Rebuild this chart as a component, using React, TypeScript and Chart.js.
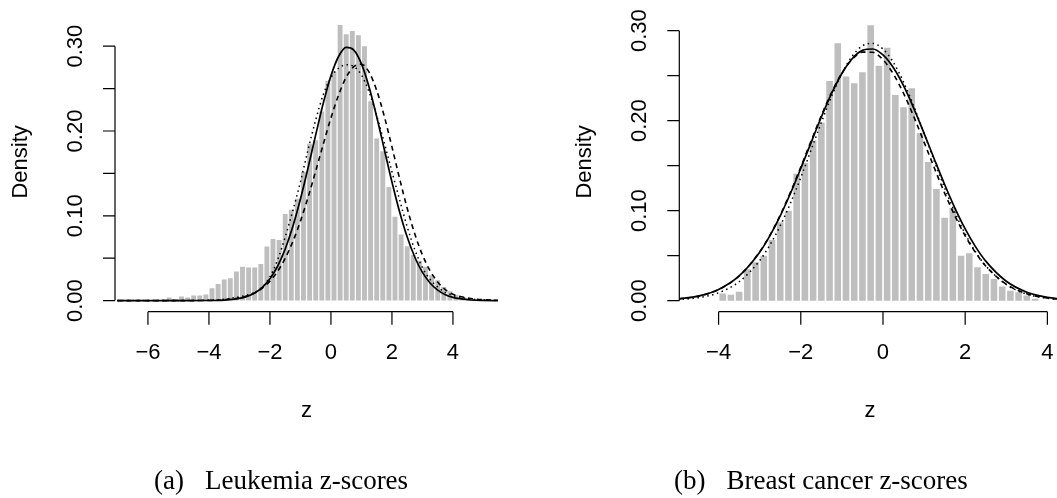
import React, { useEffect, useRef } from "react";
import { Chart, registerables } from "chart.js";

Chart.register(...registerables);

// ---------------- data: Leukemia (left panel) ----------------
const leftBinWidth = 0.2;
const leftBinEdges = [
  -5.6, -5.4, -5.2, -5.0, -4.8, -4.6, -4.4, -4.2, -4.0, -3.8, -3.6, -3.4, -3.2, -3.0,
  -2.8, -2.6, -2.4, -2.2, -2.0, -1.8, -1.6, -1.4, -1.2, -1.0, -0.8, -0.6, -0.4, -0.2,
  0.0, 0.2, 0.4, 0.6, 0.8, 1.0, 1.2, 1.4, 1.6, 1.8, 2.0, 2.2, 2.4, 2.6, 2.8, 3.0,
  3.2, 3.4, 3.6, 3.8, 4.0, 4.2, 4.4, 4.6, 4.8, 5.0,
];
const leftBinDensity = [
  0.001, 0.0035, 0.002, 0.0047, 0.0035, 0.006, 0.006, 0.0071, 0.0145, 0.0197, 0.0248, 0.0263, 0.0342, 0.04,
  0.039, 0.039, 0.043, 0.0637, 0.0727, 0.0715, 0.102, 0.107, 0.12, 0.152, 0.185, 0.189, 0.223, 0.259,
  0.27, 0.325, 0.314, 0.318, 0.313, 0.3, 0.235, 0.191, 0.176, 0.134, 0.099, 0.078, 0.064, 0.054, 0.047, 0.04,
  0.03, 0.024, 0.016, 0.011, 0.007, 0.004, 0.003, 0.002, 0.001, 0.0006,
];
const leftCurveZ = [
  -7, -5, -4, -3.5, -3, -2.75, -2.5, -2.25, -2, -1.75, -1.5, -1.25, -1, -0.75, -0.5, -0.25,
  0, 0.25, 0.5, 0.75, 1, 1.25, 1.5, 1.75, 2, 2.25, 2.5, 2.75, 3, 3.25, 3.5, 3.75, 4, 4.5, 5, 5.5,
];
const leftSolid = [
  0, 0, 0.0001, 0.0006, 0.0026, 0.005, 0.009, 0.0156, 0.0257, 0.0405, 0.0608, 0.0873, 0.1197, 0.1565, 0.1954, 0.2329,
  0.265, 0.2878, 0.2985, 0.2954, 0.2791, 0.2518, 0.2168, 0.1782, 0.1398, 0.1048, 0.0749, 0.0511, 0.0333, 0.0207, 0.0123, 0.007, 0.0038, 0.001, 0.0002, 0,
];
const leftDashed = [
  0, 0, 0.0002, 0.001, 0.0032, 0.0055, 0.0092, 0.0148, 0.023, 0.0344, 0.0499, 0.0696, 0.0937, 0.1218, 0.1527, 0.1846,
  0.2153, 0.2424, 0.2633, 0.2758, 0.2787, 0.2693, 0.2478, 0.2172, 0.1812, 0.144, 0.1089, 0.0784, 0.0538, 0.0352, 0.0219, 0.0129, 0.0075, 0.003, 0.001, 0.0003,
];
const leftDotted = [
  0, 0.0001, 0.0005, 0.0015, 0.0045, 0.0065, 0.0095, 0.016, 0.028, 0.048, 0.075, 0.106, 0.14, 0.178, 0.213, 0.243,
  0.263, 0.274, 0.278, 0.276, 0.266, 0.246, 0.218, 0.186, 0.152, 0.119, 0.087, 0.06, 0.039, 0.025, 0.016, 0.0095, 0.006, 0.0022, 0.0007, 0.0002,
];
const leftXTicks = [-6, -4, -2, 0, 2, 4];

// ---------------- data: Breast cancer (right panel) ----------------
const rightBinWidth = 0.2;
const rightBinEdges = [
  -4.0, -3.8, -3.6, -3.4, -3.2, -3.0, -2.8, -2.6, -2.4, -2.2, -2.0, -1.8, -1.6, -1.4, -1.2, -1.0,
  -0.8, -0.6, -0.4, -0.2, 0.0, 0.2, 0.4, 0.6, 0.8, 1.0, 1.2, 1.4, 1.6, 1.8, 2.0, 2.2, 2.4, 2.6, 2.8,
  3.0, 3.2, 3.4, 3.6,
];
const rightBinDensity = [
  0.008, 0.0065, 0.01, 0.035, 0.0426, 0.05, 0.0674, 0.087, 0.1, 0.141, 0.153, 0.178, 0.198, 0.244, 0.286, 0.249,
  0.2415, 0.2537, 0.306, 0.261, 0.281, 0.2285, 0.215, 0.236, 0.186, 0.154, 0.124, 0.092, 0.103, 0.05, 0.0526, 0.037, 0.0296, 0.024, 0.0156,
  0.011, 0.0093, 0.0056, 0.002,
];
const rightCurveZ = [
  -5, -4.5, -4, -3.5, -3, -2.75, -2.5, -2.25, -2, -1.75, -1.5, -1.25, -1, -0.75, -0.5, -0.25,
  0, 0.25, 0.5, 0.75, 1, 1.25, 1.5, 1.75, 2, 2.25, 2.5, 3, 3.5, 4, 4.5,
];
const rightSolid = [
  0.0018, 0.005, 0.0124, 0.0274, 0.0538, 0.0722, 0.0942, 0.1193, 0.1469, 0.1756, 0.204, 0.2302, 0.2524, 0.2688, 0.2781, 0.2796,
  0.273, 0.259, 0.2388, 0.2137, 0.1859, 0.1571, 0.129, 0.1029, 0.0797, 0.06, 0.0439, 0.0215, 0.0094, 0.0037, 0.0013,
];
const rightDashed = [
  0.0017, 0.0049, 0.0123, 0.0274, 0.0542, 0.0728, 0.0951, 0.1206, 0.1484, 0.1773, 0.2056, 0.2314, 0.2528, 0.2681, 0.2761, 0.2759,
  0.2677, 0.252, 0.2304, 0.2044, 0.1761, 0.1473, 0.1195, 0.0942, 0.072, 0.0535, 0.0385, 0.0183, 0.0077, 0.0029, 0.001,
];
const rightDotted = [
  0.001, 0.0032, 0.0087, 0.021, 0.0445, 0.0619, 0.0832, 0.1084, 0.1368, 0.1672, 0.1981, 0.2271, 0.2524, 0.2716, 0.2831, 0.2858,
  0.2795, 0.2648, 0.2429, 0.2159, 0.1858, 0.155, 0.1252, 0.0979, 0.0742, 0.0544, 0.0387, 0.0178, 0.0072, 0.0026, 0.0008,
];
const rightXTicks = [-4, -2, 0, 2, 4];

const yTickValues = [0, 0.05, 0.1, 0.15, 0.2, 0.25, 0.3];
const yLabelValues = [0, 0.1, 0.2, 0.3];
const yLabelTexts = ["0.00", "0.10", "0.20", "0.30"];

const captionLabels = ["(a)", "(b)"];
const captionTexts = ["Leukemia z-scores", "Breast cancer z-scores"];

const SANS = '"Liberation Sans", Arial, Helvetica, sans-serif';
const SERIF = '"Liberation Serif", "Times New Roman", serif';

type PanelProps = {
  left: number;
  width: number;
  padLeft: number;
  padRight: number;
  xMin: number;
  xMax: number;
  yMin: number;
  yMax: number;
  binEdges: number[];
  binDensity: number[];
  binWidth: number;
  curveZ: number[];
  solid: number[];
  dashed: number[];
  dotted: number[];
  xTicks: number[];
  zLabelX: number; // relative to canvas
};

const CANVAS_H = 498;
const PLOT_TOP = 12;
const PLOT_BOTTOM = 311.7;

function Panel(p: PanelProps) {
  const ref = useRef<HTMLCanvasElement | null>(null);
  useEffect(() => {
    if (!ref.current) return;
    const toPts = (ys: number[]) => p.curveZ.map((z, i) => ({ x: z, y: ys[i] }));
    const bars = p.binEdges.map((e, i) => ({ x: e + p.binWidth / 2, y: p.binDensity[i] }));

    const axesPlugin = {
      id: "rAxes",
      afterDraw(chart: any) {
        const { ctx, chartArea } = chart;
        const xs = chart.scales.x;
        const ys = chart.scales.y;
        ctx.save();
        ctx.strokeStyle = "#000";
        ctx.fillStyle = "#000";
        ctx.lineWidth = 1.2;
        // y axis
        const ax = chartArea.left;
        ctx.beginPath();
        ctx.moveTo(ax, ys.getPixelForValue(yTickValues[0]));
        ctx.lineTo(ax, ys.getPixelForValue(yTickValues[yTickValues.length - 1]));
        yTickValues.forEach((v) => {
          const py = ys.getPixelForValue(v);
          ctx.moveTo(ax, py);
          ctx.lineTo(ax - 12, py);
        });
        // x axis
        const ay = chartArea.bottom;
        ctx.moveTo(xs.getPixelForValue(p.xTicks[0]), ay);
        ctx.lineTo(xs.getPixelForValue(p.xTicks[p.xTicks.length - 1]), ay);
        p.xTicks.forEach((v) => {
          const px = xs.getPixelForValue(v);
          ctx.moveTo(px, ay);
          ctx.lineTo(px, ay + 13);
        });
        ctx.stroke();

        ctx.font = "22px " + SANS;
        ctx.textBaseline = "alphabetic";
        ctx.textAlign = "center";
        yLabelValues.forEach((v, i) => {
          ctx.save();
          ctx.translate(ax - 33, ys.getPixelForValue(v));
          ctx.rotate(-Math.PI / 2);
          ctx.fillText(yLabelTexts[i], 0, 0);
          ctx.restore();
        });
        ctx.save();
        ctx.translate(ax - 88, (PLOT_TOP + PLOT_BOTTOM) / 2);
        ctx.rotate(-Math.PI / 2);
        ctx.fillText("Density", 0, 0);
        ctx.restore();

        p.xTicks.forEach((v) => {
          const txt = v < 0 ? "\u2212" + Math.abs(v) : String(v);
          ctx.fillText(txt, xs.getPixelForValue(v), ay + 47.5);
        });
        ctx.fillText("z", p.zLabelX, ay + 105.5);
        ctx.restore();
      },
    };

    const chart = new Chart(ref.current, {
      type: "bar",
      data: {
        datasets: [
          {
            type: "line",
            data: toPts(p.solid),
            borderColor: "#000",
            borderWidth: 1.7,
            pointRadius: 0,
            fill: false,
            cubicInterpolationMode: "monotone",
            order: 0,
          } as any,
          {
            type: "line",
            data: toPts(p.dashed),
            borderColor: "#000",
            borderWidth: 1.6,
            borderDash: [5, 4],
            pointRadius: 0,
            fill: false,
            cubicInterpolationMode: "monotone",
            order: 0,
          } as any,
          {
            type: "line",
            data: toPts(p.dotted),
            borderColor: "#000",
            borderWidth: 1.5,
            borderDash: [1.5, 3.5],
            pointRadius: 0,
            fill: false,
            cubicInterpolationMode: "monotone",
            order: 0,
          } as any,
          {
            type: "bar",
            data: bars,
            backgroundColor: "#bebebe",
            borderWidth: 0,
            categoryPercentage: 1,
            barPercentage: 0.8,
            order: 1,
          } as any,
        ],
      },
      options: {
        animation: false,
        responsive: false,
        events: [],
        layout: {
          padding: {
            left: p.padLeft,
            right: p.padRight,
            top: PLOT_TOP,
            bottom: CANVAS_H - PLOT_BOTTOM,
          },
        },
        scales: {
          x: { type: "linear", min: p.xMin, max: p.xMax, display: false, offset: false },
          y: { type: "linear", min: p.yMin, max: p.yMax, display: false },
        },
        plugins: { legend: { display: false }, tooltip: { enabled: false } },
      } as any,
      plugins: [axesPlugin],
    });
    return () => chart.destroy();
  }, []);
  return (
    <canvas
      ref={ref}
      width={p.width}
      height={CANVAS_H}
      style={{ position: "absolute", left: p.left, top: 0, width: p.width, height: CANVAS_H }}
    />
  );
}

function Caption({ left, label, text }: { left: number; label: string; text: string }) {
  return (
    <div
      style={{
        position: "absolute",
        left,
        top: 467.4,
        fontFamily: SERIF,
        fontSize: 27,
        lineHeight: "27px",
        color: "#000",
        whiteSpace: "nowrap",
      }}
    >
      <span>{label}</span>
      <span style={{ marginLeft: 21 }}>{text}</span>
    </div>
  );
}

export default function App() {
  return (
    <div
      style={{
        position: "absolute",
        left: 0,
        top: 0,
        width: 1057,
        height: 498,
        background: "#fff",
        overflow: "hidden",
      }}
    >
      <Panel
        left={0}
        width={528}
        padLeft={115}
        padRight={30}
        xMin={-7.08}
        xMax={5.477}
        yMin={-0.0131}
        yMax={0.3403}
        binEdges={leftBinEdges}
        binDensity={leftBinDensity}
        binWidth={leftBinWidth}
        curveZ={leftCurveZ}
        solid={leftSolid}
        dashed={leftDashed}
        dotted={leftDotted}
        xTicks={leftXTicks}
        zLabelX={306.5}
      />
      <Panel
        left={528}
        width={529}
        padLeft={151.3}
        padRight={0}
        xMin={-4.956}
        xMax={4.234}
        yMin={-0.0123}
        yMax={0.3207}
        binEdges={rightBinEdges}
        binDensity={rightBinDensity}
        binWidth={rightBinWidth}
        curveZ={rightCurveZ}
        solid={rightSolid}
        dashed={rightDashed}
        dotted={rightDotted}
        xTicks={rightXTicks}
        zLabelX={342}
      />
      <Caption left={154} label={captionLabels[0]} text={captionTexts[0]} />
      <Caption left={674} label={captionLabels[1]} text={captionTexts[1]} />
    </div>
  );
}
